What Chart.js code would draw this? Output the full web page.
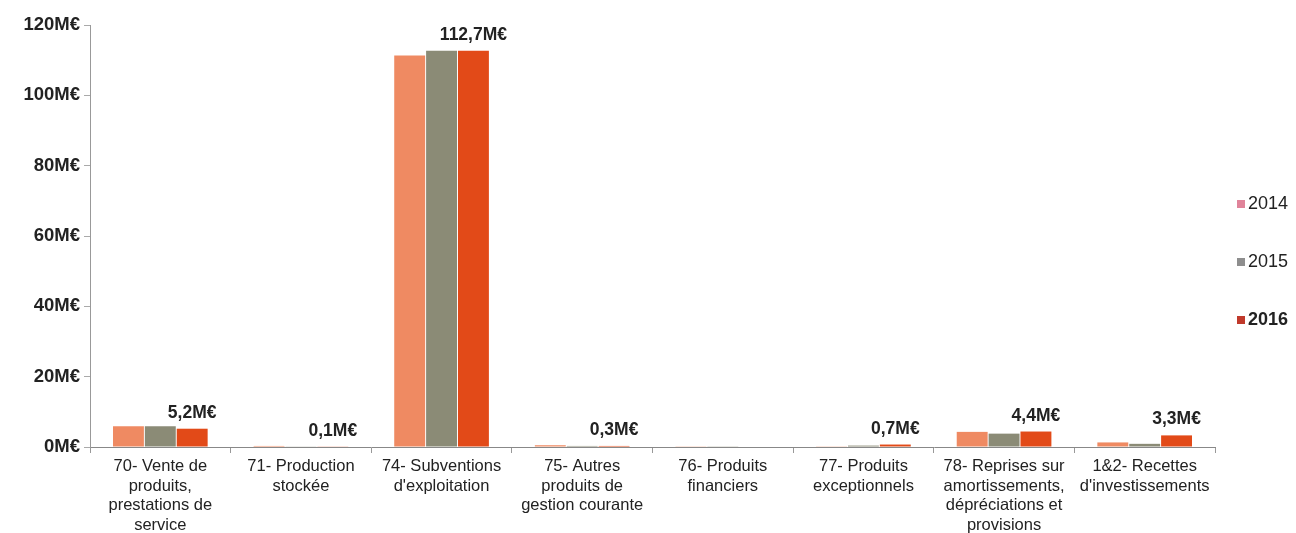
<!DOCTYPE html>
<html><head><meta charset="utf-8">
<script src="https://cdn.jsdelivr.net/npm/chart.js@4/dist/chart.umd.min.js"></script>
<style>html,body{margin:0;padding:0;background:#fff;}#wrap{width:1296px;height:533px;position:relative;}</style>
</head><body><div id="wrap"><canvas id="c" width="1296" height="533"></canvas></div>
<script>
const categories = [
  ["70- Vente de","produits,","prestations de","service"],
  ["71- Production","stockée"],
  ["74- Subventions","d'exploitation"],
  ["75- Autres","produits de","gestion courante"],
  ["76- Produits","financiers"],
  ["77- Produits","exceptionnels"],
  ["78- Reprises sur","amortissements,","dépréciations et","provisions"],
  ["1&2- Recettes","d'investissements"]
];
const seriesNames = ["2014","2015","2016"];
const v2014 = [5.9, 0.3, 111.3, 0.5, 0.2, 0.2, 4.3, 1.3];
const v2015 = [5.9, 0.1, 112.7, 0.3, 0.2, 0.4, 3.8, 0.9];
const v2016 = [5.2, 0.1, 112.7, 0.3, 0.0, 0.7, 4.4, 3.3];
const yTicks = [0, 20, 40, 60, 80, 100, 120];
const colors = ["#EF8A62", "#8B8B76", "#E24A18"];
const legendColors = ["#E0849A", "#8E8E8E", "#C0392B"];

const FONT = "'Liberation Sans', Arial, sans-serif";

const labelPlugin = {
  id: 'lbl',
  afterDatasetsDraw(chart) {
    const ctx = chart.ctx;
    const meta = chart.getDatasetMeta(2);
    ctx.save();
    ctx.font = "bold 17.5px " + FONT;
    ctx.fillStyle = "#222";
    ctx.textAlign = "center";
    ctx.textBaseline = "bottom";
    meta.data.forEach((bar, i) => {
      const v = v2016[i];
      if (!v) return;
      const t = v.toFixed(1).replace('.', ',') + 'M€';
      ctx.fillText(t, bar.x, bar.y - 7);
    });
    ctx.restore();
  },
  afterDraw(chart) {
    const ctx = chart.ctx;
    ctx.save();
    const x0 = chart.chartArea.right + 22;
    const yc = (chart.chartArea.top + chart.chartArea.bottom) / 2 + 26;
    chart.data.datasets.forEach((ds, i) => {
      const y = yc + (i - 1) * 58;
      ctx.fillStyle = legendColors[i];
      ctx.fillRect(x0, y - 4, 8, 8);
      ctx.fillStyle = "#222";
      ctx.font = (i === 2 ? "bold " : "") + "18px " + FONT;
      ctx.textAlign = "left";
      ctx.textBaseline = "middle";
      ctx.fillText(ds.label, x0 + 11, y);
    });
    ctx.restore();
  }
};

new Chart(document.getElementById('c'), {
  type: 'bar',
  data: {
    labels: categories,
    datasets: [
      { label: seriesNames[0], data: v2014, backgroundColor: colors[0] },
      { label: seriesNames[1], data: v2015, backgroundColor: colors[1] },
      { label: seriesNames[2], data: v2016, backgroundColor: colors[2] }
    ]
  },
  options: {
    responsive: false,
    animation: false,
    devicePixelRatio: 1,
    layout: { padding: { top: 25, right: 81, left: 0, bottom: 0 } },
    datasets: { bar: { barPercentage: 0.97, categoryPercentage: 0.68 } },
    plugins: { legend: { display: false }, tooltip: { enabled: false } },
    scales: {
      x: {
        grid: { offset: true, drawOnChartArea: false, drawTicks: true, tickLength: 6, color: '#999' },
        border: { color: '#888', width: 1 },
        ticks: { autoSkip: false, maxRotation: 0, minRotation: 0, color: '#222', padding: 4,
          font: { family: FONT, size: 16.5, lineHeight: 1.18 } },
        afterFit(s) { s.height = 86; }
      },
      y: {
        min: 0, max: 120,
        afterBuildTicks(s) { s.ticks = yTicks.map(v => ({ value: v })); },
        grid: { drawOnChartArea: false, drawTicks: true, tickLength: 6, color: '#aaa' },
        border: { color: '#999', width: 1 },
        ticks: { color: '#222', padding: 4, font: { family: FONT, size: 18.5, weight: 'bold' },
          callback: v => v + 'M€' },
        afterFit(s) { s.width = 90; }
      }
    }
  },
  plugins: [labelPlugin]
});
</script></body></html>
